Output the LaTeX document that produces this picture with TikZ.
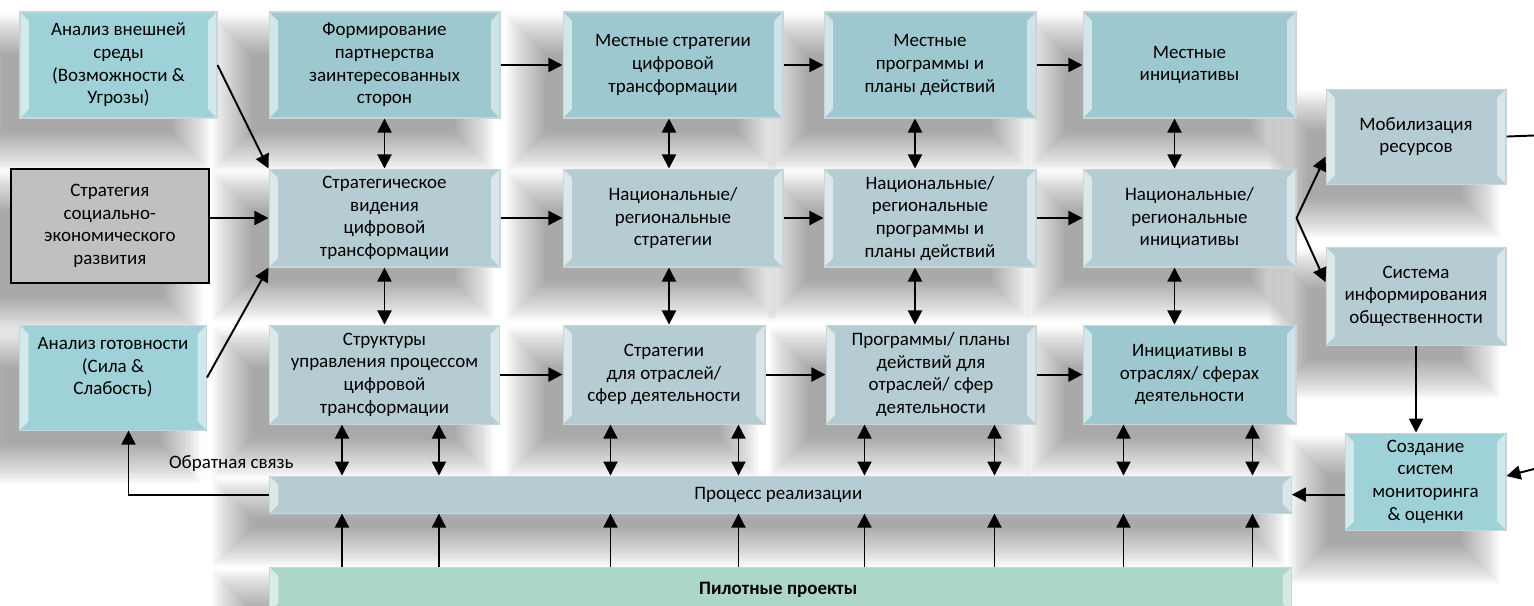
\documentclass[tikz,border=0pt]{standalone}
\usepackage{fontspec}
\setmainfont{Carlito}
\usetikzlibrary{positioning,arrows.meta,backgrounds}
\definecolor{tealbox}{RGB}{157,200,207}
\definecolor{cyanbox}{RGB}{158,210,216}
\definecolor{greybox}{RGB}{181,204,211}
\definecolor{mintbox}{RGB}{171,214,201}
\definecolor{socgrey}{RGB}{192,192,192}
\definecolor{edgegrey}{RGB}{200,214,218}
\tikzset{
  bevel/.style={path picture={
    \fill[white, opacity=.55] (path picture bounding box.north west)
      -- ([shift={(5pt,-5pt)}]path picture bounding box.north west)
      -- ([shift={(5pt,5pt)}]path picture bounding box.south west)
      -- (path picture bounding box.south west) -- cycle;
    \fill[white, opacity=.5] (path picture bounding box.north east)
      -- ([shift={(-5pt,-5pt)}]path picture bounding box.north east)
      -- ([shift={(-5pt,5pt)}]path picture bounding box.south east)
      -- (path picture bounding box.south east) -- cycle;
  }},
  block/.style={rectangle, draw=edgegrey, line width=0.6pt, align=center, inner sep=2pt,
    font=\fontsize{10.8}{12.9}\selectfont, bevel},
  hibox/.style={block, fill=tealbox, minimum height=2.12cm},
  midbox/.style={block, fill=greybox, minimum height=1.96cm},
  lowbox/.style={block, fill=greybox, minimum height=1.98cm},
  sidebox/.style={block, fill=cyanbox},
  socbox/.style={rectangle, draw=black, line width=0.8pt, fill=socgrey, align=center,
    font=\fontsize{10.8}{12.9}\selectfont},
  barbox/.style={block, minimum width=20.44cm, anchor=north west},
  haze/.style={black, opacity=.016}
}
\begin{document}
\begin{tikzpicture}[x=0.02cm, y=-0.02cm, line width=1.1pt, >={Triangle[length=8pt,width=8pt]}]
      \useasboundingbox (0,0) rectangle (1534,605);
      % top row
      \node (Partner) [hibox, minimum width=4.62cm] at (384.5,65) {
         Формирование\\партнерства\\заинтересованных\\сторон
      };
      \node (LocStrat) [hibox, minimum width=4.4cm, right=1.24cm of Partner] {
         Местные стратегии\\цифровой\\трансформации
      };
      \node (LocProg) [hibox, minimum width=4.24cm, right=0.8cm of LocStrat] {
         Местные\\программы и\\планы действий
      };
      \node (LocInit) [hibox, minimum width=4.26cm, right=0.92cm of LocProg] {
         Местные\\инициативы
      };
      % middle row
      \node (Vision) [midbox, minimum width=4.62cm, below=1cm of Partner] {
         Стратегическое\\видения\\цифровой\\трансформации
      };
      \node (NatStrat) [midbox, minimum width=4.4cm, below=1cm of LocStrat] {
         Национальные/\\региональные\\стратегии
      };
      \node (NatProg) [midbox, minimum width=4.24cm, below=1cm of LocProg] {
         Национальные/\\региональные\\программы и\\планы действий
      };
      \node (NatInit) [midbox, minimum width=4.26cm, below=1cm of LocInit] {
         Национальные/\\региональные\\инициативы
      };
      % bottom row
      \node (GovStruct) [lowbox, minimum width=4.6cm, below=1.14cm of Vision] {
         Структуры\\управления процессом\\цифровой\\трансформации
      };
      \node (SecStrat) [lowbox, minimum width=4.04cm, below=1.14cm of NatStrat.south west, anchor=north west] {
         Стратегии\\для отраслей/\\сфер деятельности
      };
      \node (SecProg) [lowbox, minimum width=4.2cm, below=1.14cm of NatProg.south east, anchor=north east] {
         Программы/ планы\\действий для\\отраслей/ сфер\\деятельности
      };
      \node (SecInit) [lowbox, fill=tealbox, minimum width=4.26cm, below=1.14cm of NatInit] {
         Инициативы в\\отраслях/ сферах\\деятельности
      };
      % left column
      \node (Env) [sidebox, minimum width=3.94cm, minimum height=2.12cm, left=1.02cm of Partner] {
         Анализ внешней\\среды\\(Возможности \&\\Угрозы)
      };
      \node (Socio) [socbox, minimum width=3.96cm, minimum height=2.28cm, left=1.18cm of Vision, yshift=-0.16cm] {
         Стратегия\\социально-\\экономического\\развития
      };
      \node (Ready) [sidebox, minimum width=3.74cm, minimum height=2.1cm, left=1.24cm of GovStruct, yshift=-0.06cm] {
         Анализ готовности\\(Сила \&\\Слабость)\\\phantom{x}
      };
      % right column
      \node (Mobil) [midbox, minimum width=3.6cm, minimum height=1.9cm, right=0.58cm of NatInit, yshift=1.63cm] {
         Мобилизация\\ресурсов
      };
      \node (Inform) [midbox, minimum width=3.6cm, below=1.24cm of Mobil] {
         Система\\информирования\\общественности
      };
      \node (Monitor) [sidebox, minimum width=3.22cm, minimum height=1.94cm, below=1.74cm of Inform.south east, anchor=north east] {
         Создание\\систем\\мониторинга\\\& оценки
      };
      % bars
      \node (Impl) [barbox, fill=greybox, minimum height=0.74cm, below=1.02cm of GovStruct.south west, anchor=north west] {
         Процесс реализации
      };
      \node (Pilot) [barbox, fill=mintbox, minimum height=0.9cm, below=1.06cm of Impl.south west, anchor=north west] {
         \textbf{Пилотные проекты}
      };
      % soft shadows behind everything
      \begin{scope}[on background layer]
        \foreach \n in {Partner, LocStrat, LocProg, LocInit, Vision, NatStrat, NatProg, NatInit,
            GovStruct, SecStrat, SecProg, SecInit, Env, Socio, Ready, Mobil, Inform, Monitor, Impl, Pilot}
          \foreach \k in {-9,...,16} {
            \pgfmathsetmacro\lx{-18-0.9*\k}
            \pgfmathsetmacro\ty{-16+0.9*\k}
            \pgfmathsetmacro\rx{-18+0.9*\k}
            \pgfmathsetmacro\by{-16-0.9*\k}
            \fill[haze] ([shift={(\lx pt,\ty pt)}]\n.north west) rectangle ([shift={(\rx pt,\by pt)}]\n.south east);
          }
      \end{scope}
      \coordinate (MobilOut) at (1534,135.5);
      \coordinate (MonIn) at (1534,469);
      % inputs to the vision
      \draw[->] (Env.east) to (Vision.north west);
      \draw[->] (Socio.east |- Vision.west) to (Vision.west);
      \draw[->] (Ready.east) to (Vision.south west);
      % rows
      \draw[->] (Partner) to (LocStrat);
      \draw[->] (LocStrat) to (LocProg);
      \draw[->] (LocProg) to (LocInit);
      \draw[->] (Vision) to (NatStrat);
      \draw[->] (NatStrat) to (NatProg);
      \draw[->] (NatProg) to (NatInit);
      \draw[->] (GovStruct) to (SecStrat);
      \draw[->] (SecStrat) to (SecProg);
      \draw[->] (SecProg) to (SecInit);
      % between rows
      \foreach \a/\b/\dx in {Partner/Vision/0, LocStrat/NatStrat/-0.08, LocProg/NatProg/-0.3,
          LocInit/NatInit/-0.3, Vision/GovStruct/0, NatStrat/SecStrat/-0.08,
          NatProg/SecProg/-0.3, NatInit/SecInit/-0.3}
        \draw[<->] ([xshift=\dx cm]\a.south) to ([xshift=\dx cm]\a.south |- \b.north);
      % to and from the implementation bar
      \foreach \n/\dx in {GovStruct/1.46, GovStruct/3.4, SecStrat/0.96, SecStrat/3.52,
          SecProg/0.78, SecProg/3.38, SecInit/0.82, SecInit/3.4} {
        \draw[<->] ([xshift=\dx cm]\n.south west) to ([xshift=\dx cm]\n.south west |- Impl.north);
        \draw[->] ([xshift=\dx cm]\n.south west |- Pilot.north) to ([xshift=\dx cm]\n.south west |- Impl.south);
      }
      \draw[->] (Impl.west) -| ([xshift=0.31cm]Ready.south)
        node (FbLabel) [pos=0.134, above=0.32cm, font=\fontsize{10.8}{12.9}\selectfont] {Обратная связь};
      % right side
      \draw[->] (NatInit.east) to ([yshift=-0.4cm]Mobil.west);
      \draw[->] (NatInit.east) to ([yshift=0.28cm]Inform.west);
      \draw[->] (Inform.south) to (Inform.south |- Monitor.north);
      \draw[->] (Monitor.west |- Impl.east) to (Impl.east);
      \draw (Mobil.east) to (MobilOut);
      \draw[->] (MonIn) to ([yshift=0.11cm]Monitor.east);
\end{tikzpicture}
\end{document}
